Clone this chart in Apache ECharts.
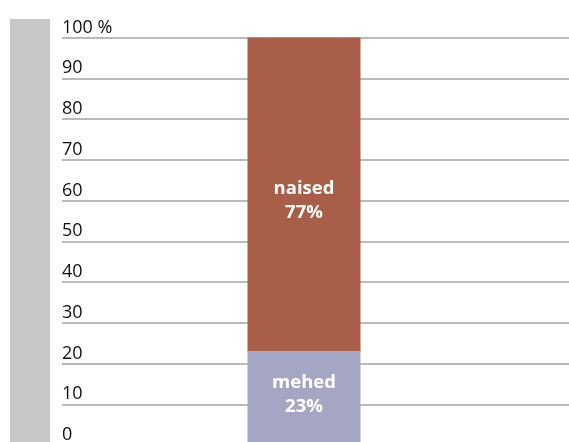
<!DOCTYPE html>
<html>
<head>
<meta charset="utf-8">
<script src="https://cdn.jsdelivr.net/npm/echarts@6/dist/echarts.min.js"></script>
<style>html,body{margin:0;padding:0;background:#fff}#c{width:569px;height:442px}</style>
</head>
<body>
<div id="c"></div>
<script>
var categories = ['kokku'];
var seriesNames = ['mehed', 'naised'];
var mehed = [23];
var naised = [77];
var yTicks = [0, 10, 20, 30, 40, 50, 60, 70, 80, 90, 100];

var chart = echarts.init(document.getElementById('c'));
var font = '"Open Sans", "Noto Sans", sans-serif';
chart.setOption({
  animation: false,
  graphic: [{ type: 'rect', shape: { x: 10, y: 19, width: 40, height: 430 }, style: { fill: '#c6c7c8' }, z: -1 }],
  grid: [
    { left: 62, right: 0, top: 37.5, height: 407.5, outerBoundsMode: 'none', containLabel: false },
    { left: 62, right: 23, top: 37.5, height: 407.5, outerBoundsMode: 'none', containLabel: false }
  ],
  xAxis: [
    { gridIndex: 0, type: 'category', data: categories, show: false },
    { gridIndex: 1, type: 'category', data: categories, show: false }
  ],
  yAxis: [
    {
      gridIndex: 0, type: 'value', min: yTicks[0], max: yTicks[yTicks.length - 1], interval: 10,
      axisLine: { show: false }, axisTick: { show: false },
      splitLine: { show: true, lineStyle: { color: '#a3a3a3', width: 1.5 } },
      axisLabel: {
        inside: true, margin: 0, align: 'left', verticalAlign: 'bottom',
        padding: [0, 0, 1, 0],
        color: '#111', fontFamily: font, fontSize: 18,
        formatter: function (v) { return v === 100 ? '100 %' : String(v); }
      }
    },
    { gridIndex: 1, type: 'value', min: 0, max: 100, show: false, splitLine: { show: false } }
  ],
  series: [
    {
      name: seriesNames[0], type: 'bar', stack: 's', xAxisIndex: 1, yAxisIndex: 1,
      data: mehed, barWidth: 113, itemStyle: { color: '#a5a6c4' },
      label: { show: true, position: 'inside', offset: [0, -3], color: '#fff', fontFamily: font, fontWeight: 'bold', fontSize: 18.5, lineHeight: 24,
        formatter: function (p) { return p.seriesName + '\n' + p.value + '%'; } }
    },
    {
      name: seriesNames[1], type: 'bar', stack: 's', xAxisIndex: 1, yAxisIndex: 1,
      data: naised, barWidth: 113, itemStyle: { color: '#a95f47' },
      label: { show: true, position: 'inside', offset: [0, 6], color: '#fff', fontFamily: font, fontWeight: 'bold', fontSize: 18.5, lineHeight: 24,
        formatter: function (p) { return p.seriesName + '\n' + p.value + '%'; } }
    }
  ]
});
</script>
</body>
</html>
